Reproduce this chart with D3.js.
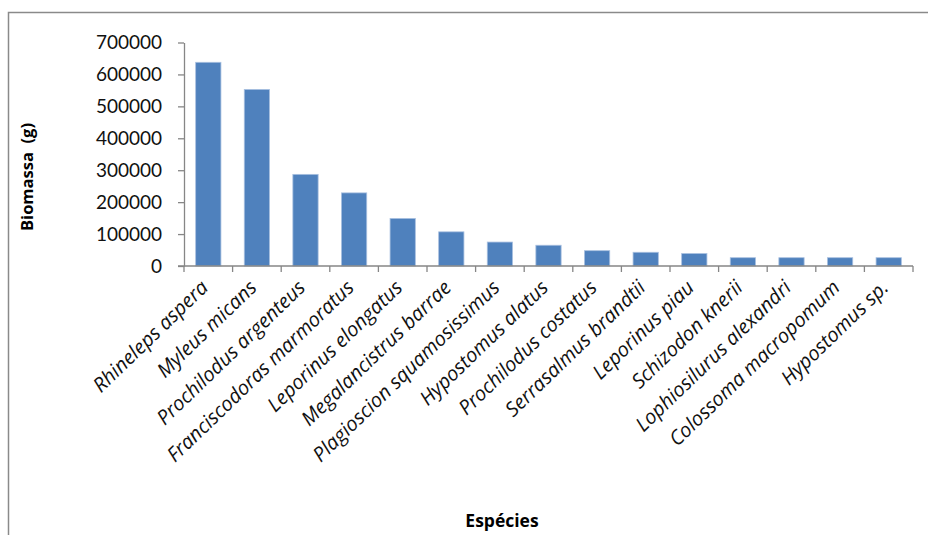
<!DOCTYPE html>
<html>
<head>
<meta charset="utf-8">
<script src="https://cdn.jsdelivr.net/npm/d3@7"></script>
<style>
  html, body { margin: 0; padding: 0; background: #fff; }
  svg { display: block; }
</style>
</head>
<body>
<svg id="chart" width="928" height="535"></svg>
<script>
// Biomassa por espécie
const species = [
  "Rhineleps aspera", "Myleus micans", "Prochilodus argenteus",
  "Franciscodoras marmoratus", "Leporinus elongatus", "Megalancistrus barrae",
  "Plagioscion squamosissimus", "Hypostomus alatus", "Prochilodus costatus",
  "Serrasalmus brandtii", "Leporinus piau", "Schizodon knerii",
  "Lophiosilurus alexandri", "Colossoma macropomum", "Hypostomus sp."
];
const biomass = [
  638000, 553000, 287000, 229000, 149000, 107000,
  75000, 65000, 48000, 43000, 39000, 26000,
  26000, 26000, 26000
];
const yTicks = [0, 100000, 200000, 300000, 400000, 500000, 600000, 700000];
const yTitle = "Biomassa  (g)";
const xTitle = "Espécies";

const svg = d3.select("#chart");
const axisColor = "#868686";
const labelFont = "'Open Sans', Lato, sans-serif";

// outer chart frame
svg.append("rect")
  .attr("x", 8.5).attr("y", 12.5)
  .attr("width", 1000).attr("height", 1000)
  .attr("fill", "none").attr("stroke", "#8a8a8a").attr("stroke-width", 1.5);

const plotLeft = 184, plotRight = 913, plotTop = 42.5, plotBottom = 266;

const x = d3.scaleBand().domain(species).range([plotLeft, plotRight])
  .paddingInner(0.48).paddingOuter(0.24);
const xSlots = d3.scaleBand().domain(species).range([plotLeft, plotRight]).padding(0);
const y = d3.scaleLinear().domain([0, 700000]).range([plotBottom, plotTop]);

// bars
svg.append("g").selectAll("rect")
  .data(species)
  .join("rect")
  .attr("x", (d) => x(d))
  .attr("width", x.bandwidth())
  .attr("y", (d, i) => y(biomass[i]))
  .attr("height", (d, i) => y(0) - y(biomass[i]))
  .attr("fill", "#4f81bd")
  .attr("stroke", "#a9c0e0")
  .attr("stroke-width", 0.8);

// y axis
const yAxis = svg.append("g")
  .attr("transform", `translate(${plotLeft},0)`)
  .call(d3.axisLeft(y).tickValues(yTicks).tickFormat(d3.format("d"))
    .tickSizeInner(6).tickSizeOuter(0).tickPadding(16));
yAxis.select(".domain").attr("stroke", axisColor).attr("stroke-width", 1.3);
yAxis.selectAll(".tick line").attr("stroke", axisColor).attr("stroke-width", 1.3);
yAxis.selectAll(".tick text")
  .style("font-family", "Lato, sans-serif").style("font-size", "19px").attr("fill", "#111");

// x axis: baseline plus ticks on slot boundaries
const xg = svg.append("g");
xg.append("line")
  .attr("x1", plotLeft - 6).attr("x2", plotRight)
  .attr("y1", y(0)).attr("y2", y(0))
  .attr("stroke", axisColor).attr("stroke-width", 1.3);
const bounds = species.map((d) => xSlots(d)).concat([xSlots.range()[1]]);
xg.selectAll("line.tk")
  .data(bounds)
  .join("line")
  .attr("class", "tk")
  .attr("x1", (d) => d).attr("x2", (d) => d)
  .attr("y1", y(0)).attr("y2", y(0) + 6)
  .attr("stroke", axisColor).attr("stroke-width", 1.3);

// rotated category labels
xg.selectAll("text.cat")
  .data(species)
  .join("text")
  .attr("class", "cat")
  .attr("transform", (d) => `translate(${x(d) + x.bandwidth() / 2 + 1},${y(0) + 23}) rotate(-44)`)
  .attr("text-anchor", "end")
  .attr("fill", "#111")
  .style("font-family", labelFont)
  .style("font-style", "italic")
  .style("font-size", "20px")
  .text((d) => d);

// axis titles
svg.append("text")
  .attr("transform", `translate(33,177) rotate(-90)`)
  .attr("text-anchor", "middle")
  .attr("fill", "#000")
  .style("font-family", labelFont)
  .style("font-weight", "bold")
  .style("font-size", "16.5px")
  .style("white-space", "pre")
  .text(yTitle);

svg.append("text")
  .attr("x", 502).attr("y", 527)
  .attr("text-anchor", "middle")
  .attr("fill", "#000")
  .style("font-family", labelFont)
  .style("font-weight", "bold")
  .style("font-size", "17.5px")
  .text(xTitle);
</script>
</body>
</html>
